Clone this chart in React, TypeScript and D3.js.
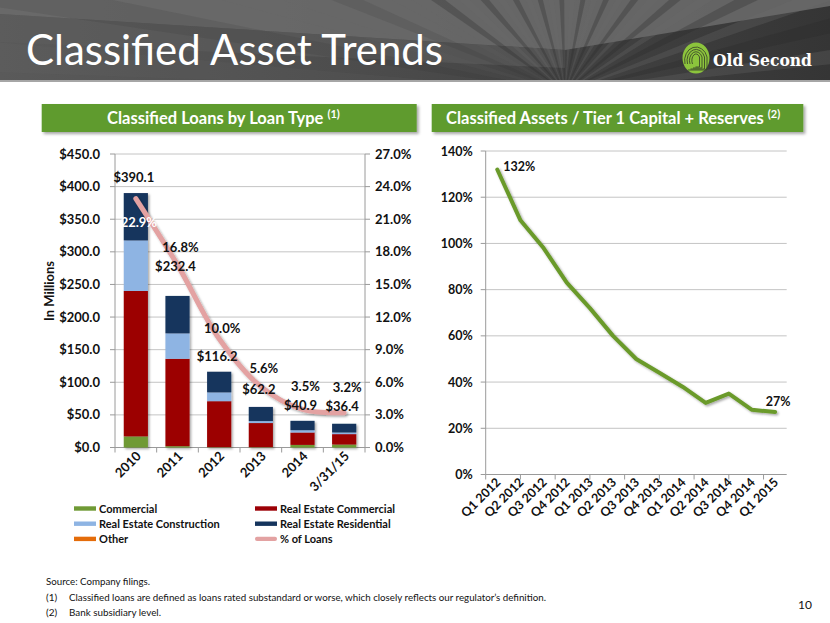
import React from 'react';
import * as d3 from 'd3';

// ---------- DATA ----------
const years = ['2010', '2011', '2012', '2013', '2014', '3/31/15'];
const commercial = [17, 2, 0.5, 0.5, 4, 4.5];
const reCommercial = [223, 134, 70.5, 37, 19, 16];
const reConstruction = [77.5, 39, 13.5, 3, 3.5, 2.5];
const reResidential = [72.6, 57.4, 31.7, 21.7, 14.4, 13.4];
const otherLoans = [0, 0, 0, 0, 0, 0];
const totals = [390.1, 232.4, 116.2, 62.2, 40.9, 36.4];
const pctLoans = [22.9, 16.8, 10.0, 5.6, 3.5, 3.2];
const leftTicks = [0, 50, 100, 150, 200, 250, 300, 350, 400, 450];
const rightTicks = [0, 3, 6, 9, 12, 15, 18, 21, 24, 27];

const quarters = ['Q1 2012', 'Q2 2012', 'Q3 2012', 'Q4 2012', 'Q1 2013', 'Q2 2013', 'Q3 2013', 'Q4 2013', 'Q1 2014', 'Q2 2014', 'Q3 2014', 'Q4 2014', 'Q1 2015'];
const ratio = [132, 110, 98, 83, 72, 60, 50, 44, 38, 31, 35, 28, 27];
const ratioTicks = [0, 20, 40, 60, 80, 100, 120, 140];

const seriesNames = ['Commercial', 'Real Estate Commercial', 'Real Estate Construction', 'Real Estate Residential', 'Other'];
const seriesColors = ['#6f9a35', '#9c0006', '#8eb4e3', '#15345d', '#e46c0a'];
const lineColor = '#e3a2a2';
const greenLine = '#6a9a2c';

// label layout offsets (px) for the value labels
const totalLift = [16, 29, 15, 17, 15, 17];
const pctLift = [-24, 17, 10, 18.5, 22.5, 25.5];

const FONT = 'Lato, "Open Sans", sans-serif';

export default function App() {
  const W = 830, H = 623;

  // ---- left chart scales ----
  const x = d3.scaleBand<string>().domain(years).range([115, 365]).paddingInner(0.42).paddingOuter(0.21);
  const y = d3.scaleLinear().domain([0, 450]).range([447.5, 154]);
  const y2 = d3.scaleLinear().domain([0, 27]).range([447.5, 154]);

  const rows = years.map((yr, i) => ({
    year: yr,
    s0: commercial[i], s1: reCommercial[i], s2: reConstruction[i], s3: reResidential[i], s4: otherLoans[i],
  }));
  const stack = d3.stack<any>().keys(['s0', 's1', 's2', 's3', 's4'])(rows);

  const cx = (yr: string) => (x(yr) as number) + x.bandwidth() / 2;
  const pctLine = d3.line<number>()
    .x((_, i) => cx(years[i]))
    .y((d) => y2(d))
    .curve(d3.curveCatmullRom.alpha(0.5))(pctLoans) as string;

  // ---- right chart scales ----
  const xq = d3.scaleBand<string>().domain(quarters).range([485.7, 786.7]).padding(0);
  const yq = d3.scaleLinear().domain([0, 140]).range([474.5, 151]);
  const qc = (q: string) => (xq(q) as number) + xq.bandwidth() / 2;
  const ratioLine = d3.line<number>()
    .x((_, i) => qc(quarters[i]))
    .y((d) => yq(d))(ratio) as string;
  const qTickPositions = d3.range(0, quarters.length + 0.01, 1.5).map((k) => 485.7 + k * xq.bandwidth());

  // ---- header rays ----
  const rc = [565, 92];
  const rayAngles = d3.range(-178, -2, 6.5);

  const gridColor = '#c4c4c4';
  const axisColor = '#9a9a9a';

  return (
    <svg width={W} height={H} viewBox={`0 0 ${W} ${H}`} style={{ position: 'absolute', left: 0, top: 0, background: '#fff' }} fontFamily={FONT}>
      <defs>
        <linearGradient id="hdr" x1="0" x2="1" y1="0" y2="0">
          <stop offset="0" stopColor="#5a5a5a" />
          <stop offset="0.5" stopColor="#4a4a4a" />
          <stop offset="1" stopColor="#353535" />
        </linearGradient>
        <filter id="sh" x="-10%" y="-10%" width="130%" height="130%">
          <feDropShadow dx="1.5" dy="1.5" stdDeviation="1.2" floodColor="#000" floodOpacity="0.35" />
        </filter>
        <filter id="shBox" x="-5%" y="-20%" width="110%" height="160%">
          <feDropShadow dx="2" dy="2" stdDeviation="1.5" floodColor="#000" floodOpacity="0.35" />
        </filter>
        <clipPath id="hdrClip"><rect x={0} y={0} width={W} height={81} /></clipPath>
      </defs>

      {/* ---------- HEADER ---------- */}
      <g clipPath="url(#hdrClip)">
        <rect x={0} y={0} width={W} height={81} fill="url(#hdr)" />
        <path d={`M0,0 L${W},0 L${W},6 L${rc[0]},${rc[1] - 42} L0,14 Z`} fill="#6c6c6c" opacity={0.85} />
        <path d={`M0,14 L${rc[0]},${rc[1] - 42} L${rc[0]},${rc[1] - 24} L0,42 Z`} fill="#5e5e5e" opacity={0.6} />
        {rayAngles.map((a, i) => {
          const r = 700;
          const a1 = (a * Math.PI) / 180;
          const a2 = ((a + 3) * Math.PI) / 180;
          return (
            <path key={i}
              d={`M${rc[0]},${rc[1]} L${rc[0] + r * Math.cos(a1)},${rc[1] + r * Math.sin(a1)} L${rc[0] + r * Math.cos(a2)},${rc[1] + r * Math.sin(a2)} Z`}
              fill={i % 2 ? '#262626' : '#6a6a6a'} opacity={a < -150 ? 0.12 : 0.28} />
          );
        })}
      </g>
      <rect x={0} y={80} width={W} height={2} fill="#a6a6a6" />
      <text x={26} y={65} fill="#fff" fontSize={42} textLength={417} lengthAdjust="spacingAndGlyphs" fontFamily={FONT}>Classified Asset Trends</text>

      {/* logo */}
      <g transform="translate(696,58)">
        <ellipse cx={0} cy={0} rx={13.5} ry={15.5} fill="#8cc43c" />
        <g fill="none" stroke="#3d4a2a" strokeWidth={0.9}>
          {[11, 8.5, 6, 3.5].map((r, i) => (
            <path key={i} d={`M${-r},${6} A${r},${r + 2} 0 1 1 ${r},${-1} L${r},${12 - i} L${-r + 3},${12 - i}`} />
          ))}
        </g>
      </g>
      <text x={713} y={66} fill="#fff" fontSize={17} fontWeight="bold" fontFamily='"DejaVu Serif", serif' textLength={99} lengthAdjust="spacingAndGlyphs">Old Second</text>

      {/* ---------- SECTION TITLES ---------- */}
      <rect x={41.7} y={104} width={375} height={28} fill="#5e9b2f" filter="url(#shBox)" />
      <text x={107} y={124} fill="#fff" fontSize={16.5} fontWeight="bold">
        Classified Loans by Loan Type<tspan fontSize={11} dy={-6} dx={4}>(1)</tspan>
      </text>
      <rect x={431.7} y={104} width={371.6} height={28} fill="#5e9b2f" filter="url(#shBox)" />
      <text x={446} y={124} fill="#fff" fontSize={16.5} fontWeight="bold">
        Classified Assets / Tier 1 Capital + Reserves<tspan fontSize={11} dy={-6} dx={4}>(2)</tspan>
      </text>

      {/* ---------- LEFT CHART ---------- */}
      {leftTicks.map((t) => (
        <g key={t}>
          {t > 0 && <line x1={115} x2={365} y1={y(t)} y2={y(t)} stroke={gridColor} strokeWidth={1} />}
          <line x1={110} x2={115} y1={y(t)} y2={y(t)} stroke={axisColor} />
          <text x={100} y={y(t) + 4.5} textAnchor="end" fontSize={13} fontWeight="bold" fill="#111">{`$${t.toFixed(1)}`}</text>
        </g>
      ))}
      {rightTicks.map((t) => (
        <g key={t}>
          <line x1={365} x2={370} y1={y2(t)} y2={y2(t)} stroke={axisColor} />
          <text x={375} y={y2(t) + 4.5} textAnchor="start" fontSize={13} fontWeight="bold" fill="#111">{`${t.toFixed(1)}%`}</text>
        </g>
      ))}
      <line x1={115} x2={115} y1={154} y2={447.5} stroke={axisColor} />
      <line x1={365} x2={365} y1={154} y2={447.5} stroke={axisColor} />
      <line x1={115} x2={365} y1={447.5} y2={447.5} stroke={axisColor} />
      {d3.range(years.length + 1).map((k) => {
        const px = 115 + k * x.step();
        return <line key={k} x1={px} x2={px} y1={447.5} y2={452.5} stroke={axisColor} />;
      })}
      <text transform={`translate(54,291) rotate(-90)`} textAnchor="middle" fontSize={13} fontWeight="bold" fill="#111">In Millions</text>

      {/* bars */}
      <g filter="url(#sh)">
        {stack.map((s, si) => (
          <g key={si} fill={seriesColors[si]}>
            {s.map((d, i) => (
              d[1] - d[0] > 0 ? (
                <rect key={i} x={x(years[i])} width={x.bandwidth()} y={y(d[1])} height={y(d[0]) - y(d[1])} />
              ) : null
            ))}
          </g>
        ))}
      </g>

      {/* % of loans line */}
      <path d={pctLine} fill="none" stroke={lineColor} strokeWidth={5} strokeLinecap="round" filter="url(#sh)" />

      {/* value labels */}
      {years.map((yr, i) => (
        <g key={yr} fontSize={13} fontWeight="bold">
          <text x={cx(yr) - 2} y={y(totals[i]) - totalLift[i] + 4.5} textAnchor="middle" fill="#111">{`$${totals[i].toFixed(1)}`}</text>
          <text x={cx(yr) + 3} y={y2(pctLoans[i]) - pctLift[i] + 4.5} textAnchor="middle" fill={i === 0 ? '#fff' : '#111'}>{`${pctLoans[i].toFixed(1)}%`}</text>
        </g>
      ))}

      {/* x labels */}
      {years.map((yr) => (
        <text key={yr} transform={`translate(${cx(yr) + 6},${457}) rotate(-45)`} textAnchor="end" fontSize={13} fontWeight="bold" fill="#111">{yr}</text>
      ))}

      {/* legend */}
      {seriesNames.concat(['% of Loans']).map((name, i) => {
        const order = [0, 2, 4, 1, 3, 5];
        const pos = order.indexOf(i);
        const col = pos < 3 ? 0 : 1;
        const row = pos % 3;
        const lx = col === 0 ? 74 : 255;
        const ly = 508.5 + row * 15.2;
        const color = i < 5 ? seriesColors[i] : lineColor;
        return (
          <g key={name}>
            <rect x={lx} y={ly - 2.2} width={22} height={4.4} fill={color} rx={i === 5 ? 2 : 0} />
            <text x={lx + 25} y={ly + 4} fontSize={11} fontWeight="bold" fill="#111">{name}</text>
          </g>
        );
      })}

      {/* ---------- RIGHT CHART ---------- */}
      {ratioTicks.map((t) => (
        <g key={t}>
          {t > 0 && <line x1={485.7} x2={786.7} y1={yq(t)} y2={yq(t)} stroke={gridColor} />}
          <line x1={480.7} x2={485.7} y1={yq(t)} y2={yq(t)} stroke={axisColor} />
          <text x={472.7} y={yq(t) + 4.5} textAnchor="end" fontSize={12.5} fontWeight="bold" fill="#111">{`${t}%`}</text>
        </g>
      ))}
      <line x1={485.7} x2={485.7} y1={151} y2={474.5} stroke={axisColor} />
      <line x1={485.7} x2={786.7} y1={474.5} y2={474.5} stroke={axisColor} />
      {qTickPositions.map((px, k) => (
        <line key={k} x1={px} x2={px} y1={474.5} y2={479.5} stroke={axisColor} />
      ))}
      <path d={ratioLine} fill="none" stroke={greenLine} strokeWidth={4} strokeLinejoin="round" strokeLinecap="round" filter="url(#sh)" />
      <text x={qc(quarters[0]) + 6} y={yq(ratio[0]) + 2} fontSize={12.5} fontWeight="bold" fill="#111">{`${ratio[0]}%`}</text>
      <text x={qc(quarters[quarters.length - 1]) + 3} y={yq(ratio[ratio.length - 1]) - 6} textAnchor="middle" fontSize={12.5} fontWeight="bold" fill="#111">{`${ratio[ratio.length - 1]}%`}</text>
      {quarters.map((q) => (
        <text key={q} transform={`translate(${qc(q) + 4},${483}) rotate(-45)`} textAnchor="end" fontSize={12.5} fontWeight="bold" fill="#111">{q}</text>
      ))}

      {/* ---------- FOOTER ---------- */}
      <g fontSize={10} fill="#111">
        <text x={46} y={585} textLength={104} lengthAdjust="spacingAndGlyphs">Source: Company filings.</text>
        <text x={46} y={601}>(1)</text>
        <text x={69} y={601} textLength={477} lengthAdjust="spacingAndGlyphs">Classified loans are defined as loans rated substandard or worse, which closely reflects our regulator’s definition.</text>
        <text x={46} y={616}>(2)</text>
        <text x={69} y={616} textLength={92} lengthAdjust="spacingAndGlyphs">Bank subsidiary level.</text>
      </g>
      <text x={812} y={609} textAnchor="end" fontSize={12} fill="#111">10</text>
    </svg>
  );
}
